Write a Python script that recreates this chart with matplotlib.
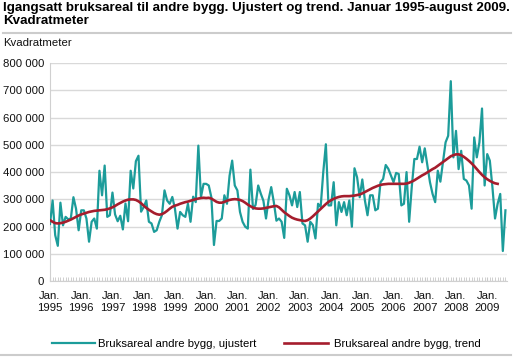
import matplotlib
matplotlib.use("Agg")
import matplotlib.pyplot as plt
import numpy as np
from matplotlib.lines import Line2D
from matplotlib.ticker import FuncFormatter, MultipleLocator

plt.rcParams['font.family'] = ['Liberation Sans', 'DejaVu Sans']

TEAL = "#1c9c9a"
RED = "#a51d2d"

years = list(range(1995, 2010))

# bruksareal, ujustert (1000 m2), Jan 1995 - Aug 2009
ujustert = [
    210, 296, 169, 130, 288, 205, 236, 227, 230, 308, 266, 187,  # 1995
    260, 260, 230, 145, 218, 230, 193, 405, 315, 424, 236, 242,  # 1996
    325, 245, 220, 240, 190, 285, 220, 405, 340, 440, 460, 255,  # 1997
    272, 296, 218, 212, 181, 187, 218, 242, 333, 296, 284, 309,  # 1998
    266, 193, 254, 242, 236, 284, 218, 310, 290, 497, 308, 357,  # 1999
    357, 351, 308, 133, 221, 221, 230, 315, 284, 387, 442, 351,  # 2000
    333, 254, 218, 200, 193, 409, 265, 280, 351, 321, 295, 230,  # 2001
    300, 345, 290, 222, 230, 218, 159, 339, 315, 278, 327, 272,  # 2002
    327, 212, 205, 145, 218, 206, 157, 284, 272, 400, 502, 278,  # 2003
    278, 363, 205, 290, 254, 290, 242, 296, 200, 414, 381, 308,  # 2004
    373, 296, 242, 315, 315, 260, 266, 363, 375, 426, 412, 387,  # 2005
    363, 397, 393, 278, 284, 400, 218, 345, 448, 448, 493, 436,  # 2006
    487, 424, 363, 320, 290, 405, 365, 436, 509, 533, 733, 454,  # 2007
    551, 411, 478, 375, 369, 351, 266, 527, 454, 509, 633, 351,  # 2008
    466, 442, 345, 230, 284, 320, 111, 260,                      # 2009
]

# trend (1000 m2), Jan 1995 - May 2009
trend = [
    224, 218, 213, 212, 213, 215, 218, 222, 226, 231, 236, 241,  # 1995
    245, 248, 251, 254, 256, 258, 259, 260, 261, 262, 264, 267,  # 1996
    271, 276, 282, 287, 292, 296, 299, 300, 300, 298, 293, 286,  # 1997
    277, 269, 262, 256, 250, 246, 244, 246, 251, 258, 266, 273,  # 1998
    277, 280, 284, 287, 290, 292, 295, 298, 301, 303, 305, 306,  # 1999
    305, 306, 303, 297, 291, 288, 288, 291, 295, 298, 300, 301,  # 2000
    300, 298, 294, 288, 281, 275, 270, 267, 266, 266, 267, 269,  # 2001
    271, 273, 275, 276, 271, 262, 253, 246, 239, 233, 229, 226,  # 2002
    224, 222, 221, 224, 230, 238, 247, 256, 265, 274, 283, 291,  # 2003
    297, 302, 306, 309, 311, 312, 312, 312, 313, 314, 316, 318,  # 2004
    322, 327, 332, 337, 342, 346, 350, 353, 355, 356, 357, 357,  # 2005
    357, 357, 357, 357, 357, 358, 361, 365, 370, 376, 382, 388,  # 2006
    393, 399, 405, 411, 416, 423, 430, 437, 444, 451, 458, 462,  # 2007
    465, 465, 462, 456, 449, 441, 432, 422, 411, 400, 390, 381,  # 2008
    374, 368, 363, 359, 357,                                     # 2009
]

W, H = 514, 357
fig = plt.figure(figsize=(W / 100, H / 100), dpi=100)


def fx(px):
    return px / W


def fy(py):
    return 1 - py / H


ax = fig.add_axes([fx(50), fy(281.3), fx(507) - fx(50), fy(62.9) - fy(281.3)])

ax.plot(np.arange(len(ujustert)), np.array(ujustert) * 1000, color=TEAL, lw=1.6, zorder=3)
ax.plot(np.arange(len(trend)), np.array(trend) * 1000, color=RED, lw=1.9, zorder=4)

ax.set_xlim(0, 175.6)
ax.set_ylim(0, 800000)
ax.set_yticks(range(0, 800001, 100000))
ax.yaxis.set_major_formatter(FuncFormatter(lambda v, p: f"{int(v):,}".replace(",", " ")))
ax.grid(axis='y', color='#d9d9d9', lw=1)
ax.set_axisbelow(True)

for side in ['top', 'right']:
    ax.spines[side].set_visible(False)
ax.spines['left'].set_color('#d0d0d0')
ax.spines['bottom'].set_color('#d0d0d0')

ax.tick_params(axis='y', length=0, labelsize=8.2, pad=4.3, labelcolor='#111111')
ax.set_xticks(range(0, 176, 12), [f"Jan.\n{y}" for y in years])
ax.xaxis.set_minor_locator(MultipleLocator(1))
ax.tick_params(axis='x', which='both', direction='in', length=3, color='#c8c8c8',
               labelsize=8.2, pad=7, labelcolor='#111111')

# title and unit
fig.text(fx(3), fy(11.5), "Igangsatt bruksareal til andre bygg. Ujustert og trend. Januar 1995-august 2009.",
         fontsize=9.6, fontweight='bold', va='baseline')
fig.text(fx(3), fy(24), "Kvadratmeter", fontsize=9.6, fontweight='bold', va='baseline')
fig.add_artist(Line2D([fx(3), fx(511)], [fy(33.3), fy(33.3)], color='#cccccc', lw=1.5))
fig.text(fx(3), fy(46.5), "Kvadratmeter", fontsize=8.2, va='baseline', color='#111111')

# legend
fig.add_artist(Line2D([fx(52), fx(95)], [fy(343), fy(343)], color=TEAL, lw=1.6))
fig.text(fx(98), fy(343), "Bruksareal andre bygg, ujustert", fontsize=8.2, va='center_baseline')
fig.add_artist(Line2D([fx(284), fx(328)], [fy(343), fy(343)], color=RED, lw=1.9))
fig.text(fx(334), fy(343), "Bruksareal andre bygg, trend", fontsize=8.2, va='center_baseline')
fig.add_artist(Line2D([fx(0), fx(511)], [fy(355), fy(355)], color='#cccccc', lw=1.5))

fig.savefig("out.png", dpi=100)
